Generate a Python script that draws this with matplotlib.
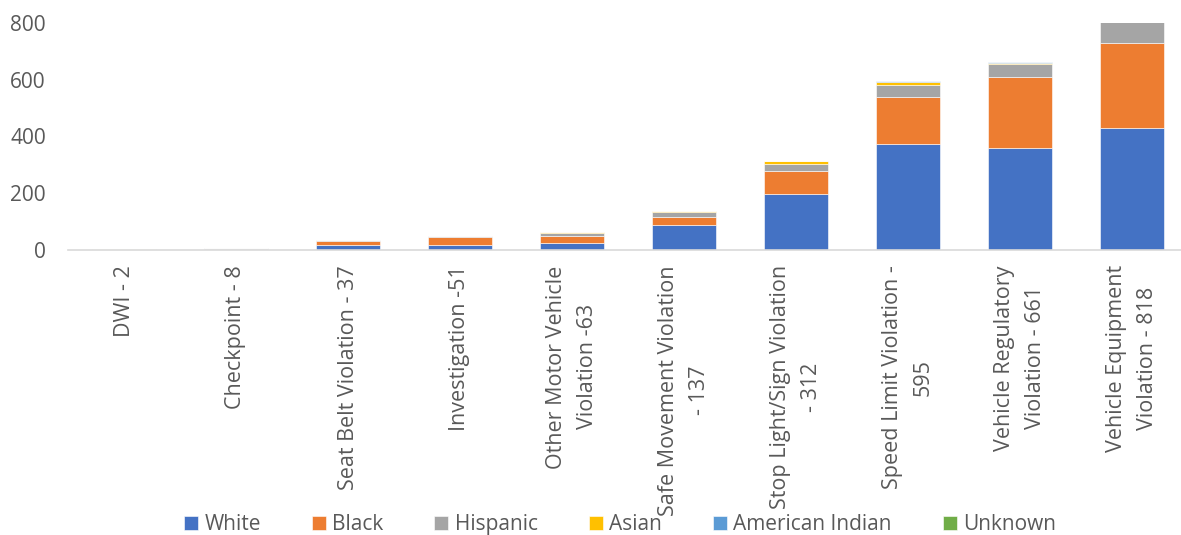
import matplotlib.pyplot as plt
import numpy as np

plt.rcParams['font.family'] = ['Open Sans', 'DejaVu Sans']

# stop reasons with totals, broken by race
categories = ["DWI - 2", "Checkpoint - 8", "Seat Belt Violation - 37",
              "Investigation -51", "Other Motor Vehicle\nViolation -63",
              "Safe Movement Violation\n- 137", "Stop Light/Sign Violation\n- 312",
              "Speed Limit Violation -\n595", "Vehicle Regulatory\nViolation - 661",
              "Vehicle Equipment\nViolation - 818"]

white = [1, 2, 18, 18, 25, 88, 196, 374, 360, 431]
black = [1, 2, 12, 29, 25, 28, 83, 164, 249, 299]
hispanic = [0, 4, 6, 2, 11, 19, 25, 43, 47, 80]
asian = [0, 0, 1, 2, 1, 2, 8, 12, 4, 6]
american_indian = [0, 0, 0, 0, 0, 0, 0, 2, 1, 1]
unknown = [0, 0, 0, 0, 1, 0, 0, 0, 0, 1]

series = [("White", white, "#4472C4"),
          ("Black", black, "#ED7D31"),
          ("Hispanic", hispanic, "#A5A5A5"),
          ("Asian", asian, "#FFC000"),
          ("American Indian", american_indian, "#5B9BD5"),
          ("Unknown", unknown, "#70AD47")]

fig = plt.figure(figsize=(11.81, 5.35), dpi=100)
ax = fig.add_axes([68 / 1181, 1 - 250 / 535, 1120 / 1181, 227 / 535])

x = np.arange(len(categories))
bottom = np.zeros(len(categories))
for name, vals, col in series:
    ax.bar(x, vals, width=0.57, bottom=bottom, color=col, label=name,
           edgecolor="white", linewidth=0.4)
    bottom += np.array(vals)

ax.set_xlim(-0.5, 9.5)
ax.set_ylim(0, 800)
ax.set_yticks([0, 200, 400, 600, 800])
ax.set_xticks(x)
ax.set_xticklabels(categories, rotation=90, ha="center", va="top",
                   multialignment="center", linespacing=1.6)
ax.tick_params(axis="y", length=0, pad=16, labelsize=15, labelcolor="#595959")
ax.tick_params(axis="x", length=0, pad=11, labelsize=15.5, labelcolor="#595959")

for s in ["top", "right", "left"]:
    ax.spines[s].set_visible(False)
ax.spines["bottom"].set_color("#D9D9D9")
ax.spines["bottom"].set_linewidth(1.2)

fig.legend(loc="center", bbox_to_anchor=(620 / 1181, 10.5 / 535), ncol=6,
           frameon=False, fontsize=15, labelcolor="#595959",
           handlelength=0.67, handleheight=0.67, handletextpad=0.3,
           columnspacing=2.45, borderpad=0)

fig.savefig("out.png", dpi=100)
